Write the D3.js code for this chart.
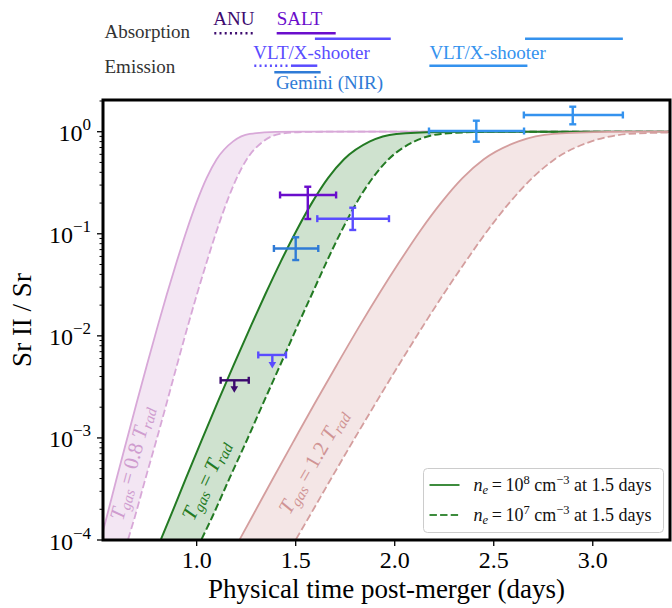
<!DOCTYPE html>
<html><head><meta charset="utf-8">
<script src="https://cdn.jsdelivr.net/npm/d3@7"></script>
<style>
body{margin:0;background:#fff}
svg{display:block}
text{font-family:"Liberation Serif","Times New Roman",serif}
</style>
</head><body>
<svg id="chart" width="672" height="608"></svg>
<script>
// ---------- data ----------
const xTickValues = [1.0, 1.5, 2.0, 2.5, 3.0];
const xTickLabels = ["1.0", "1.5", "2.0", "2.5", "3.0"];
const yTickExponents = [0, -1, -2, -3, -4];

// model curves: Sr II / Sr vs physical time (days)
const pinkSolidT = [0.527, 0.546, 0.596, 0.647, 0.697, 0.748, 0.806, 0.849, 0.899, 0.950, 1.000, 1.050, 1.101, 1.184, 1.268, 1.40, 1.52, 3.39];
const pinkSolidV = [1.225e-4, 1.69e-4, 4.03e-4, 9.55e-4, 2.213e-3, 5.13e-3, 0.01303, 0.0254, 0.0531, 0.1084, 0.2042, 0.3508, 0.537, 0.8035, 0.9506, 0.9954, 1.0, 1.0];
const pinkDashT = [0.654, 0.688, 0.742, 0.797, 0.849, 0.900, 0.958, 1.001, 1.051, 1.102, 1.152, 1.202, 1.253, 1.336, 1.420, 1.552, 1.672, 3.39];
const pinkDashV = [1.02e-4, 1.69e-4, 4.03e-4, 9.55e-4, 2.213e-3, 5.13e-3, 0.01303, 0.0254, 0.0531, 0.1084, 0.2042, 0.3508, 0.537, 0.8035, 0.9506, 0.9954, 1.0, 1.0];

const greenSolidT = [0.820, 0.867, 0.946, 1.026, 1.105, 1.186, 1.278, 1.346, 1.424, 1.505, 1.584, 1.663, 1.744, 1.875, 2.008, 2.216, 2.406, 3.39];
const greenSolidV = [1.02e-4, 1.69e-4, 4.03e-4, 9.55e-4, 2.213e-3, 5.13e-3, 0.01303, 0.0254, 0.0531, 0.1084, 0.2042, 0.3508, 0.537, 0.8035, 0.9506, 0.9954, 1.0, 1.0];
const greenDashT = [1.025, 1.079, 1.166, 1.254, 1.337, 1.421, 1.513, 1.581, 1.656, 1.733, 1.809, 1.888, 1.969, 2.100, 2.233, 2.441, 2.631, 3.39];
const greenDashV = [1.02e-4, 1.69e-4, 4.03e-4, 9.55e-4, 2.213e-3, 5.13e-3, 0.01303, 0.0254, 0.0531, 0.1084, 0.2042, 0.3508, 0.537, 0.8035, 0.9506, 0.9954, 1.0, 1.0];

const brownSolidT = [1.218, 1.280, 1.386, 1.493, 1.598, 1.706, 1.828, 1.919, 2.024, 2.131, 2.237, 2.342, 2.450, 2.625, 2.802, 3.080, 3.333, 3.39];
const brownSolidV = [1.02e-4, 1.69e-4, 4.03e-4, 9.55e-4, 2.213e-3, 5.13e-3, 0.01303, 0.0254, 0.0531, 0.1084, 0.2042, 0.3508, 0.537, 0.8035, 0.9506, 0.9954, 1.0, 1.0];
const brownDashT = [1.502, 1.568, 1.680, 1.793, 1.905, 2.019, 2.149, 2.245, 2.357, 2.470, 2.582, 2.694, 2.808, 2.993, 3.181, 3.39];
const brownDashV = [1.02e-4, 1.69e-4, 4.03e-4, 9.55e-4, 2.213e-3, 5.13e-3, 0.01303, 0.0254, 0.0531, 0.1084, 0.2042, 0.3508, 0.537, 0.8035, 0.9506, 0.982];

// curve labels (anchor in data coordinates)
const curveLabelT = [0.668, 1.042, 1.585];
const curveLabelV = [5.68e-4, 3.87e-4, 5.9e-4];
const curveLabelFactor = ["0.8", "", "1.2"];

// observations
const obsInstrument = ["SALT", "X-shooter", "Gemini", "X-shooter", "ANU", "X-shooter late", "X-shooter late"];
const obsTime   = [1.561, 1.788, 1.500, 1.382, 1.190, 2.412, 2.899];
const obsTimeLo = [1.421, 1.609, 1.390, 1.311, 1.121, 2.173, 2.652];
const obsTimeHi = [1.704, 1.971, 1.614, 1.451, 1.263, 2.653, 3.152];
const obsVal    = [0.240, 0.1406, 0.0718, 0.0065, 0.00367, 1.016, 1.458];
const obsValLo  = [0.1396, 0.109, 0.0553, 0.0048, 0.00277, 0.798, 1.182];
const obsValHi  = [0.289, 0.180, 0.0924, null, null, 1.282, 1.758];
const obsUpperLimit = [false, false, false, true, true, false, false];

// observation windows shown above the plot
const segInstrument = ["ANU", "SALT", "X-shooter", "X-shooter late", "X-shooter", "X-shooter", "Gemini", "X-shooter late"];
const segKind  = ["Absorption", "Absorption", "Absorption", "Absorption", "Emission", "Emission", "Emission", "Emission"];
const segLane  = [0, 0, 1, 1, 0, 0, 1, 0];
const segStart = [1.089, 1.404, 1.597, 2.658, 1.291, 1.476, 1.392, 2.175];
const segEnd   = [1.294, 1.702, 1.980, 3.152, 1.463, 1.609, 1.626, 2.670];
const segDotted = [true, false, false, false, true, false, false, false];

const topLabelText = ["ANU", "SALT", "VLT/X-shooter", "Gemini (NIR)", "VLT/X-shooter"];
const topLabelInstrument = ["ANU", "SALT", "X-shooter", "Gemini", "X-shooter late"];
const topLabelT = [1.084, 1.404, 1.286, 1.400, 2.175];
const topLabelRow = ["abs", "abs", "em", "emLow", "em"];

const rowTitles = ["Absorption", "Emission"];
const legendDensityExp = ["8", "7"];

// ---------- styles ----------
const instColor = {
  "ANU": "#3c0a6e",
  "SALT": "#6a0dcc",
  "X-shooter": "#5a4cff",
  "Gemini": "#2f7bd6",
  "X-shooter late": "#3492ee"
};

const svg = d3.select("#chart");
const L = 103, R = 670, T = 100, B = 540;
const x = d3.scaleLinear().domain([0.527, 3.39]).range([L, R]);
const y = d3.scaleLog().domain([1e-4, 2.045]).range([B, T]);

svg.append("defs").append("clipPath").attr("id", "clip")
  .append("rect").attr("x", L).attr("y", T).attr("width", R - L).attr("height", B - T);

const plot = svg.append("g").attr("clip-path", "url(#clip)");
const line = d3.line().x(d => x(d[0])).y(d => y(d[1])).curve(d3.curveMonotoneX);

const bands = [
  {sT: pinkSolidT, sV: pinkSolidV, dT: pinkDashT, dV: pinkDashV, stroke: "#d8a8d8", fill: "#f3e6f3", lw: 1.8},
  {sT: greenSolidT, sV: greenSolidV, dT: greenDashT, dV: greenDashV, stroke: "#237a23", fill: "#cfe2cf", lw: 2},
  {sT: brownSolidT, sV: brownSolidV, dT: brownDashT, dV: brownDashV, stroke: "#d49e9e", fill: "#f4e6e6", lw: 1.8}
];
const yb = y.range()[0] + 25;
bands.forEach(b => {
  const s = d3.zip(b.sT, b.sV), d = d3.zip(b.dT, b.dV);
  const p1 = line(s);
  const p2 = line(d.slice().reverse()).replace(/^M/, "L");
  plot.append("path")
    .attr("d", p1 + p2 + `L${x(d[0][0])},${yb}L${x(s[0][0])},${yb}Z`)
    .attr("fill", b.fill).attr("stroke", "none");
  plot.append("path").attr("d", p1).attr("fill", "none")
    .attr("stroke", b.stroke).attr("stroke-width", b.lw);
  plot.append("path").attr("d", line(d)).attr("fill", "none")
    .attr("stroke", b.stroke).attr("stroke-width", b.lw).attr("stroke-dasharray", "7.4,3.2");
});

// curve labels
const labelColors = ["#cf9ccf", "#237a23", "#d09494"];
const labelAngles = [-75, -65, -60];
curveLabelT.forEach((t, i) => {
  const tx = plot.append("text")
    .attr("transform", `translate(${x(t)},${y(curveLabelV[i])}) rotate(${labelAngles[i]})`)
    .attr("text-anchor", "middle").attr("dy", "0.35em")
    .attr("font-size", 21).attr("fill", labelColors[i]);
  tx.append("tspan").attr("font-style", "italic").text("T");
  tx.append("tspan").attr("font-style", "italic").attr("font-size", 15).attr("dy", 4).text("gas");
  tx.append("tspan").attr("dy", -4).text("\u2009=\u2009" + (curveLabelFactor[i] ? curveLabelFactor[i] + " " : ""));
  tx.append("tspan").attr("font-style", "italic").text("T");
  tx.append("tspan").attr("font-style", "italic").attr("font-size", 15).attr("dy", 4).text("rad");
});

// observations
const eb = svg.append("g");
obsTime.forEach((t, i) => {
  const c = instColor[obsInstrument[i]];
  const g = eb.append("g").attr("stroke", c).attr("fill", c).attr("stroke-width", 2.4);
  const cx = x(t), cy = y(obsVal[i]);
  const xl = x(obsTimeLo[i]), xh = x(obsTimeHi[i]);
  g.append("line").attr("x1", xl).attr("x2", xh).attr("y1", cy).attr("y2", cy);
  g.append("line").attr("x1", xl).attr("x2", xl).attr("y1", cy - 3.5).attr("y2", cy + 3.5);
  g.append("line").attr("x1", xh).attr("x2", xh).attr("y1", cy - 3.5).attr("y2", cy + 3.5);
  if (obsUpperLimit[i]) {
    const ye = y(obsValLo[i]);
    g.append("line").attr("x1", cx).attr("x2", cx).attr("y1", cy).attr("y2", ye - 5);
    g.append("path").attr("stroke", "none")
      .attr("d", `M${cx - 3.8},${ye - 6.5}L${cx + 3.8},${ye - 6.5}L${cx},${ye}Z`);
  } else {
    const yl = y(obsValLo[i]), yh = y(obsValHi[i]);
    g.append("line").attr("x1", cx).attr("x2", cx).attr("y1", yl).attr("y2", yh);
    g.append("line").attr("x1", cx - 3.5).attr("x2", cx + 3.5).attr("y1", yl).attr("y2", yl);
    g.append("line").attr("x1", cx - 3.5).attr("x2", cx + 3.5).attr("y1", yh).attr("y2", yh);
  }
});

// legend
const lg = svg.append("g");
lg.append("rect").attr("x", 423.5).attr("y", 468.5).attr("width", 240).attr("height", 64)
  .attr("rx", 4).attr("fill", "#fff").attr("fill-opacity", 0.85)
  .attr("stroke", "#cccccc").attr("stroke-width", 1);
legendDensityExp.forEach((e, i) => {
  const ly = 485 + i * 30;
  lg.append("line").attr("x1", 429.5).attr("x2", 459.5).attr("y1", ly).attr("y2", ly)
    .attr("stroke", "#3d8c3d").attr("stroke-width", 2)
    .attr("stroke-dasharray", i === 1 ? "7.4,3.2" : null);
  const tx = lg.append("text").attr("x", 473.5).attr("y", ly + 5.5).attr("font-size", 18).attr("fill", "#111");
  tx.append("tspan").attr("font-style", "italic").text("n");
  tx.append("tspan").attr("font-style", "italic").attr("font-size", 12.5).attr("dy", 3.5).text("e");
  tx.append("tspan").attr("dy", -3.5).text("\u2009=\u200910");
  tx.append("tspan").attr("font-size", 12.5).attr("dy", -7).text(e);
  tx.append("tspan").attr("dy", 7).text(" cm");
  tx.append("tspan").attr("font-size", 12.5).attr("dy", -7).text("\u22123");
  tx.append("tspan").attr("dy", 7).text(" at 1.5 days");
});

// axes: ticks
const ax = svg.append("g").attr("stroke", "#000");
xTickValues.forEach((v, i) => {
  ax.append("line").attr("x1", x(v)).attr("x2", x(v)).attr("y1", B).attr("y2", B + 6).attr("stroke-width", 1.3);
  svg.append("text").attr("x", x(v)).attr("y", B + 28).attr("text-anchor", "middle")
    .attr("font-size", 24).attr("fill", "#000").text(xTickLabels[i]);
});
yTickExponents.forEach(e => {
  const v = Math.pow(10, e), py = y(v);
  ax.append("line").attr("x1", L - 6).attr("x2", L).attr("y1", py).attr("y2", py).attr("stroke-width", 1.3);
  const tx = svg.append("text").attr("x", 91).attr("y", py + 9.5).attr("text-anchor", "end")
    .attr("font-size", 24).attr("fill", "#000");
  tx.append("tspan").text("10");
  tx.append("tspan").attr("font-size", 17).attr("dy", -11).text(e === 0 ? "0" : "\u2212" + Math.abs(e));
});
// minor y ticks
for (let e = -4; e <= 0; e++) {
  for (let m = 2; m <= 9; m++) {
    const v = m * Math.pow(10, e);
    if (v > y.domain()[1]) continue;
    ax.append("line").attr("x1", L - 3.5).attr("x2", L).attr("y1", y(v)).attr("y2", y(v)).attr("stroke-width", 1);
  }
}

// frame
svg.append("rect").attr("x", L).attr("y", T).attr("width", R - L).attr("height", B - T)
  .attr("fill", "none").attr("stroke", "#000").attr("stroke-width", 3);

// axis labels
svg.append("text").attr("x", (L + R) / 2).attr("y", 598).attr("text-anchor", "middle")
  .attr("font-size", 27).attr("fill", "#000").text("Physical time post-merger (days)");
svg.append("text").attr("transform", `translate(31,${(T + B) / 2}) rotate(-90)`)
  .attr("text-anchor", "middle").attr("font-size", 27).attr("fill", "#000").text("Sr II / Sr");

// top: observation windows
const laneY = {Absorption: [33.3, 38.7], Emission: [65.7, 72.3]};
segStart.forEach((s, i) => {
  const ly = laneY[segKind[i]][segLane[i]];
  svg.append("line").attr("x1", x(s)).attr("x2", x(segEnd[i])).attr("y1", ly).attr("y2", ly)
    .attr("stroke", instColor[segInstrument[i]]).attr("stroke-width", 2.5)
    .attr("stroke-dasharray", segDotted[i] ? "2,3.2" : null);
});
const rowBase = {abs: 25, em: 59, emLow: 89};
topLabelText.forEach((txt, i) => {
  svg.append("text").attr("x", x(topLabelT[i])).attr("y", rowBase[topLabelRow[i]])
    .attr("font-size", 19).attr("fill", instColor[topLabelInstrument[i]]).text(txt);
});
const titleBase = [37.5, 72.5];
rowTitles.forEach((t, i) => {
  svg.append("text").attr("x", 104.5).attr("y", titleBase[i]).attr("font-size", 19)
    .attr("fill", "#333").text(t);
});
</script>
</body></html>
